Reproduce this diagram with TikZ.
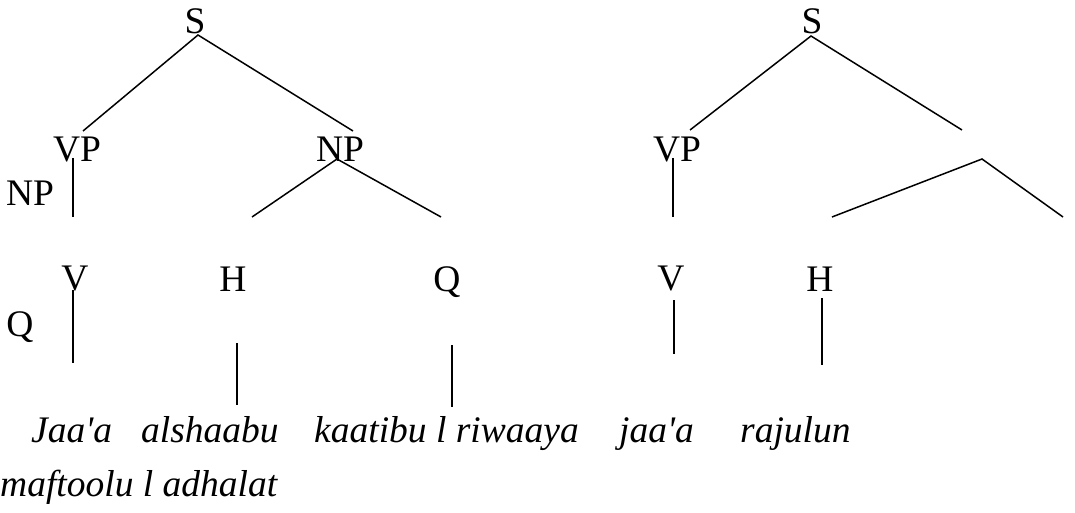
\documentclass[tikz,border=0pt]{standalone}
\usepackage{fontspec}
\setmainfont{Liberation Serif}
\begin{document}
\begin{tikzpicture}[x=1pt,y=-1pt,
  lbl/.style={inner sep=0pt,anchor=base,font=\fontsize{37.5}{44}\selectfont},
  word/.style={inner sep=0pt,anchor=base west,font=\fontsize{37.5}{44}\selectfont\itshape},
  branch/.style={line width=1.5pt,line cap=butt}]
\useasboundingbox (0,0) rectangle (1075,513);

% ---------- first tree ----------
\node[lbl] (s1)   at (195,34)  {S};
\node[lbl] (vp1)  at (77,162)  {VP};
\node[lbl] (npx)  at (30,205)  {NP};
\node[lbl] (np1)  at (340,162) {NP};
\node[lbl] (v1)   at (75,290)  {V};
\node[lbl] (qx)   at (20,336)  {Q};
\node[lbl] (h1)   at (233,291) {H};
\node[lbl] (q1)   at (447,291) {Q};

\coordinate (s1top)  at (198,35);
\coordinate (s1l)    at (83,131);
\coordinate (s1r)    at (353,131);
\coordinate (vp1a)   at (73,158);
\coordinate (vp1b)   at (73,217);
\coordinate (np1top) at (337,159);
\coordinate (np1l)   at (252,217);
\coordinate (np1r)   at (441,217);
\coordinate (v1a)    at (73,290);
\coordinate (v1b)    at (73,363);
\coordinate (h1a)    at (237,343);
\coordinate (h1b)    at (237,405);
\coordinate (q1a)    at (452,345);
\coordinate (q1b)    at (452,407);

\draw[branch] (s1l) -- (s1top) -- (s1r);
\draw[branch] (vp1a) -- (vp1b);
\draw[branch] (np1l) -- (np1top) -- (np1r);
\draw[branch] (v1a) -- (v1b);
\draw[branch] (h1a) -- (h1b);
\draw[branch] (q1a) -- (q1b);

% ---------- second tree ----------
\node[lbl] (s2)  at (812,34)  {S};
\node[lbl] (vp2) at (677,162) {VP};
\node[lbl] (v2)  at (671,290) {V};
\node[lbl] (h2)  at (820,291) {H};

\coordinate (s2top) at (811,36);
\coordinate (s2l)   at (690,130);
\coordinate (s2r)   at (962,130);
\coordinate (vp2a)  at (673,158);
\coordinate (vp2b)  at (673,217);
\coordinate (nptop) at (982,159);
\coordinate (npl)   at (832,217);
\coordinate (npr)   at (1063,217);
\coordinate (v2a)   at (674,300);
\coordinate (v2b)   at (674,354);
\coordinate (h2a)   at (822,298);
\coordinate (h2b)   at (822,365);

\draw[branch] (s2l) -- (s2top) -- (s2r);
\draw[branch] (vp2a) -- (vp2b);
\draw[branch] (npl) -- (nptop) -- (npr);
\draw[branch] (v2a) -- (v2b);
\draw[branch] (h2a) -- (h2b);

% ---------- words ----------
\node[word] (w1) at (31,442)  {Jaa\textquotesingle a};
\node[word] (w2) at (141,442) {alshaabu};
\node[word] (w3) at (314,442) {kaatibu l riwaaya};
\node[word] (w4) at (619,442) {jaa\textquotesingle a};
\node[word] (w5) at (740,442) {rajulun};
\node[word] (w6) at (0,496)   {maftoolu l adhalat};
\end{tikzpicture}
\end{document}
